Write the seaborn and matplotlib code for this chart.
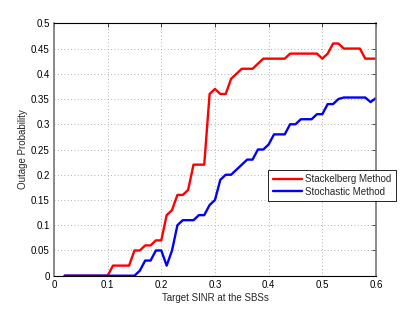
import numpy as np
import pandas as pd
import seaborn as sns
from matplotlib import pyplot as plt
from matplotlib.ticker import FormatStrFormatter

# target SINR grid (0.02 .. 0.60, step 0.01)
sinr = [round(0.02 + 0.01 * i, 2) for i in range(59)]

stackelberg = [
    0, 0, 0, 0, 0, 0, 0, 0, 0,          # 0.02-0.10
    0.02, 0.02, 0.02, 0.02,             # 0.11-0.14
    0.05, 0.05, 0.06, 0.06, 0.07, 0.07, # 0.15-0.20
    0.12, 0.13, 0.16, 0.16, 0.17,       # 0.21-0.25
    0.22, 0.22, 0.22, 0.36, 0.37,       # 0.26-0.30
    0.36, 0.36, 0.39, 0.40, 0.41,       # 0.31-0.35
    0.41, 0.41, 0.42, 0.43, 0.43,       # 0.36-0.40
    0.43, 0.43, 0.43, 0.44, 0.44,       # 0.41-0.45
    0.44, 0.44, 0.44, 0.44, 0.43,       # 0.46-0.50
    0.44, 0.46, 0.46, 0.45, 0.45,       # 0.51-0.55
    0.45, 0.45, 0.43, 0.43, 0.43,       # 0.56-0.60
]

stochastic = [
    0, 0, 0, 0, 0, 0, 0, 0, 0,          # 0.02-0.10
    0, 0, 0, 0, 0, 0.01, 0.03, 0.03,    # 0.11-0.18
    0.05, 0.05, 0.02, 0.05,             # 0.19-0.22
    0.10, 0.11, 0.11, 0.11, 0.12,       # 0.23-0.27
    0.12, 0.14, 0.15, 0.19, 0.20,       # 0.28-0.32
    0.20, 0.21, 0.22, 0.23, 0.23,       # 0.33-0.37
    0.25, 0.25, 0.26, 0.28, 0.28,       # 0.38-0.42
    0.28, 0.30, 0.30, 0.31, 0.31,       # 0.43-0.47
    0.31, 0.32, 0.32, 0.34, 0.34,       # 0.48-0.52
    0.35, 0.353, 0.353, 0.353, 0.353,   # 0.53-0.57
    0.353, 0.344, 0.352,                # 0.58-0.60
]

methods = ["Stackelberg Method", "Stochastic Method"]
colors = ["#ff0000", "#0000ff"]

df = pd.DataFrame({
    "sinr": sinr * 2,
    "prob": stackelberg + stochastic,
    "method": [methods[0]] * len(sinr) + [methods[1]] * len(sinr),
})

sns.set_style("white")
plt.rcParams["font.family"] = ["Liberation Sans", "DejaVu Sans"]
plt.rcParams["font.size"] = 7

fig = plt.figure(figsize=(4.15, 3.11), dpi=100)
ax = fig.add_axes([0.130, 0.1135, 0.776, 0.8115])

sns.lineplot(
    data=df, x="sinr", y="prob", hue="method",
    palette=dict(zip(methods, colors)), linewidth=1.7, ax=ax,
)

ax.set_xlim(0, 0.6)
ax.set_ylim(0, 0.5)
ax.set_xticks(np.arange(0, 0.61, 0.1))
ax.set_yticks(np.arange(0, 0.51, 0.05))
ax.xaxis.set_major_formatter(FormatStrFormatter("%g"))
ax.yaxis.set_major_formatter(FormatStrFormatter("%g"))
ax.tick_params(direction="in", length=3, width=0.5, labelsize=7,
               top=True, right=True, colors="black", pad=3)
ax.grid(True, linestyle=(0, (1, 3)), color="#999999", linewidth=0.6)

for side in ["top", "bottom"]:
    ax.spines[side].set_color("black")
    ax.spines[side].set_linewidth(0.8)
for side in ["left", "right"]:
    ax.spines[side].set_color("#777777")
    ax.spines[side].set_linewidth(1.2)

ax.set_xlabel("Target SINR at the SBSs", fontsize=7, labelpad=2)
ax.set_ylabel("Outage Probability", fontsize=7, labelpad=2)

leg = ax.legend(
    loc="upper left", bbox_to_anchor=(0.6655, 0.419), borderaxespad=0,
    fancybox=False, framealpha=1, edgecolor="black", fontsize=7,
    handlelength=3.0, handletextpad=0.35, borderpad=0.45, labelspacing=0.25,
)
leg.get_frame().set_linewidth(0.6)

fig.savefig("out.png", dpi=100)
